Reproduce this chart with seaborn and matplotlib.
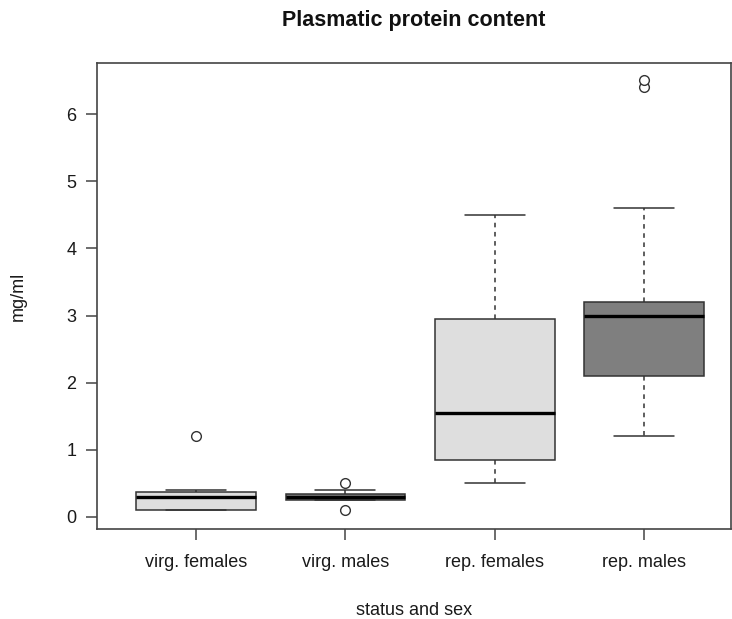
import matplotlib
matplotlib.use("Agg")
import matplotlib.pyplot as plt
import seaborn as sns
import pandas as pd

# ---- data ----
groups = ["virg. females", "virg. males", "rep. females", "rep. males"]
virg_females = [0.1, 0.1, 0.1, 0.2, 0.3, 0.35, 0.37, 0.4, 1.2]
virg_males = [0.1, 0.25, 0.25, 0.28, 0.3, 0.32, 0.34, 0.4, 0.5]
rep_females = [0.5, 0.7, 0.85, 1.2, 1.55, 2.3, 2.95, 3.8, 4.5]
rep_males = [1.2, 1.9, 2.0, 2.1, 2.5, 2.8, 3.0, 3.05, 3.1, 3.2, 4.6, 6.4, 6.5]
fills = ["#dedede", "#7f7f7f", "#dedede", "#7f7f7f"]
yticks = [0, 1, 2, 3, 4, 5, 6]

values = [virg_females, virg_males, rep_females, rep_males]
df = pd.DataFrame({
    "group": [g for g, v in zip(groups, values) for _ in v],
    "value": [x for v in values for x in v],
})

sns.set_style("white")
plt.rcParams["font.family"] = ["Liberation Sans", "DejaVu Sans"]

fig = plt.figure(figsize=(7.32, 6.19), dpi=100)
ax = fig.add_axes([0.1325, 0.1454, 0.866, 0.7528])

line = "#333333"
sns.boxplot(
    data=df, x="group", y="value", hue="group", order=groups, hue_order=groups,
    palette=fills, legend=False, width=0.8, dodge=False, ax=ax,
    linecolor=line, linewidth=1.1, whis=1.5,
    medianprops=dict(color="black", linewidth=2.4),
    whiskerprops=dict(linestyle=(0, (3, 3)), color=line),
    capprops=dict(linestyle="-", color=line),
    flierprops=dict(marker="o", markersize=7, markerfacecolor="white",
                    markeredgecolor=line, markeredgewidth=1.0),
)

ax.set_xlim(-0.662, 3.58)
ax.set_ylim(-0.179, 6.76)
ax.set_yticks(yticks)
ax.set_yticklabels([str(t) for t in yticks])

for s in ax.spines.values():
    s.set_visible(True)
    s.set_color("#444444")
    s.set_linewidth(1.2)

ax.tick_params(axis="both", which="both", direction="out", length=8,
               width=1.1, color="#444444", labelsize=13, labelcolor="#1a1a1a")
ax.tick_params(axis="x", pad=10, bottom=True)
ax.tick_params(axis="y", pad=7, left=True)

ax.set_xlabel("status and sex", fontsize=13, color="#1a1a1a", labelpad=22)
ax.set_ylabel("mg/ml", fontsize=13, color="#1a1a1a", labelpad=28)
ax.set_title("Plasmatic protein content", fontsize=15.5, fontweight="bold",
             color="#111111", pad=26.5)

fig.savefig("out.png", dpi=100)
